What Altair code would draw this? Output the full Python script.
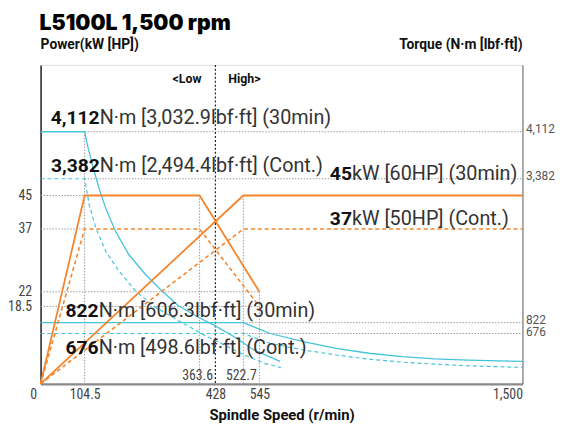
import altair as alt
import pandas as pd

# ---------------- tick values ----------------
speed_ticks = [0, 104.5, 428, 545, 1500]
speed_inner_ticks = [363.6, 522.7]
power_ticks = [18.5, 22, 37, 45]
torque_ticks = [676, 822, 3382, 4112]

# ---------------- power curves (kW) ----------------
p_low30_speed = [0, 104.5, 363.6, 545]
p_low30_kw = [0, 45, 45, 22]
p_lowc_speed = [0, 104.5, 363.6, 545]
p_lowc_kw = [0, 37, 37, 18.5]
p_high30_speed = [0, 522.7, 1500]
p_high30_kw = [0, 45, 45]
p_highc_speed = [0, 522.7, 1500]
p_highc_kw = [0, 37, 37]

# ---------------- torque curves (N·m) ----------------
t_low30_speed = [0, 104.5, 111.2, 122.3, 137.2, 152.1, 174.4, 204.0, 241.2, 278.1,
                 315.3, 359.8, 424, 491.6, 537.3, 620.3]
t_low30_nm = [4112, 4112, 3893, 3586, 3206, 2855, 2444, 2034, 1683, 1390,
              1126, 922, 786, 632, 455, 301]
t_lowc_speed = [0, 104.5, 115, 129.9, 152.1, 181.7, 218.9, 263.4, 315.3, 370,
                435.7, 513.7, 560.8, 622.8]
t_lowc_nm = [3382, 3382, 2913, 2503, 2092, 1741, 1390, 1098, 862, 676,
             566, 411, 278, 219]
t_high_speed = [0, 522.7, 584.4, 704.2, 823.6, 943, 1062.7, 1182, 1301.4, 1500]
t_high30_nm = [822, 822, 676, 566, 477, 411, 367, 335, 318, 301]
t_highc_nm = [676, 676, 543, 455, 388, 331, 292, 265, 243, 221]

# ---------------- guide lines ----------------
p_grid_val = [45, 37, 22, 18.5]
p_grid_from = [0, 0, 0, 0]
p_grid_to = [104.5, 104.5, 545, 545]
t_grid_val = [4112, 3382, 822, 676]
t_grid_from = [104.5, 104.5, 522.7, 522.7]
t_grid_to = [1500, 1500, 1500, 1500]
p_vline_speed = [363.6, 522.7, 545]
p_vline_top = [45, 45, 22]
t_vline_speed = [104.5]
t_vline_top = [4112]
shift_speed = [428]

W, H = 488, 323
ORANGE = "#F5852C"
CYAN = "#44C4D8"
GRID = "#9a9a9a"
NARROW = "Liberation Sans Narrow, Roboto Condensed, Roboto, sans-serif"
ROBOTO = "Roboto, sans-serif"

xscale = alt.Scale(domain=[0, 104.5, 363.6, 428, 522.7, 545, 1500],
                   range=[0, 44.6, 161, 177, 205.3, 221.6, W], nice=False, zero=False)
pscale = alt.Scale(domain=[0, 76.2], range=[H, 0], nice=False, zero=False)
tscale = alt.Scale(domain=[0, 676, 822, 3382, 4112, 5150],
                   range=[H, 272, 261, 115.3, 67.7, 0], nice=False, zero=False)


def curves(parts):
    frames = [pd.DataFrame({"speed": s, "val": v, "series": n}) for s, v, n in parts]
    return pd.concat(frames, ignore_index=True)


power_solid_df = curves([(p_low30_speed, p_low30_kw, "low30"), (p_high30_speed, p_high30_kw, "high30")])
power_dash_df = curves([(p_lowc_speed, p_lowc_kw, "lowc"), (p_highc_speed, p_highc_kw, "highc")])
torque_solid_df = curves([(t_low30_speed, t_low30_nm, "low30"), (t_high_speed, t_high30_nm, "high30")])
torque_dash_df = curves([(t_lowc_speed, t_lowc_nm, "lowc"), (t_high_speed, t_highc_nm, "highc")])

x_axis = alt.Axis(orient="bottom", values=speed_ticks, format=",.5~g", ticks=False, grid=False,
                  domainColor="#8a8a8a", domainWidth=2.5, labelOverlap=False,
                  labelFont=NARROW, labelFontSize=14, labelColor="#444", labelPadding=4,
                  labelOffset={"condition": {"test": "datum.value == 0", "value": -11}, "value": 0},
                  title="Spindle Speed (r/min)", titleFont=ROBOTO, titleFontSize=15,
                  titleFontWeight="bold", titleColor="#111", titlePadding=6)
left_axis = alt.Axis(orient="left", values=power_ticks, format=".4~g", ticks=False, grid=False,
                     domainColor="#222", domainWidth=1.5, labelFont=NARROW, labelFontSize=14,
                     labelColor="#444", labelPadding=9, labelOverlap=False, title=None)
right_axis = alt.Axis(orient="right", values=torque_ticks, format=",.5~g", ticks=False, grid=False,
                      domainColor="#666", domainWidth=1, labelFont=ROBOTO, labelFontSize=12,
                      labelColor="#555", labelPadding=3, labelOverlap=False,
                      labelOffset={"condition": {"test": "datum.value == 676", "value": -1.5},
                                   "value": -3.5},
                      title=None)


def X(f="speed:Q"):
    return alt.X(f, scale=xscale, axis=x_axis, title="Spindle Speed (r/min)")


layers = []
# ---------- power marks ----------
layers.append(alt.Chart(pd.DataFrame({"val": p_grid_val, "a": p_grid_from, "b": p_grid_to})).mark_rule(
    color=GRID, strokeDash=[1.5, 1.5], strokeWidth=1).encode(
    x=X("a:Q"), x2="b:Q", y=alt.Y("val:Q", scale=pscale, axis=None)))
layers.append(alt.Chart(pd.DataFrame({"speed": p_vline_speed, "top": p_vline_top, "bot": 0})).mark_rule(
    color=GRID, strokeDash=[1.5, 1.5], strokeWidth=1).encode(
    x=X(), y=alt.Y("top:Q", scale=pscale, axis=None), y2="bot:Q"))
layers.append(alt.Chart(pd.DataFrame({"speed": shift_speed})).mark_rule(
    color="#222", strokeDash=[2, 2], strokeWidth=1.2).encode(
    x=X(), y=alt.value(0), y2=alt.value(H)))
# ---------- torque marks ----------
layers.append(alt.Chart(pd.DataFrame({"val": t_grid_val, "a": t_grid_from, "b": t_grid_to})).mark_rule(
    color=GRID, strokeDash=[1.5, 1.5], strokeWidth=1).encode(
    x=X("a:Q"), x2="b:Q", y=alt.Y("val:Q", scale=tscale, axis=None)))
layers.append(alt.Chart(pd.DataFrame({"speed": t_vline_speed, "top": t_vline_top, "bot": 0})).mark_rule(
    color=GRID, strokeDash=[1.5, 1.5], strokeWidth=1).encode(
    x=X(), y=alt.Y("top:Q", scale=tscale, axis=None), y2="bot:Q"))
layers.append(alt.Chart(torque_dash_df).mark_line(color=CYAN, strokeWidth=1.2, strokeDash=[4, 3]).encode(
    x=X(), y=alt.Y("val:Q", scale=tscale, axis=None), detail="series:N"))
layers.append(alt.Chart(torque_solid_df).mark_line(color=CYAN, strokeWidth=1.3).encode(
    x=X(), y=alt.Y("val:Q", scale=tscale, axis=right_axis), detail="series:N"))
layers.append(alt.Chart(power_dash_df).mark_line(color=ORANGE, strokeWidth=1.6, strokeDash=[4, 3]).encode(
    x=X(), y=alt.Y("val:Q", scale=pscale, axis=None), detail="series:N"))
layers.append(alt.Chart(power_solid_df).mark_line(color=ORANGE, strokeWidth=1.8).encode(
    x=X(), y=alt.Y("val:Q", scale=pscale, axis=left_axis), detail="series:N"))

# ---------- texts ----------
one = pd.DataFrame({"k": [0]})


def txt(s, x, y, align="left", font=ROBOTO, size=20, weight="normal", color="#333"):
    return alt.Chart(one).mark_text(align=align, baseline="alphabetic", font=font, fontSize=size,
                                    fontWeight=weight, color=color).encode(
        x=alt.value(x), y=alt.value(y), text=alt.value(s))


layers.append(txt("L5100L 1,500 rpm", -1, -35, font="Inter, DejaVu Sans, sans-serif", size=21.5,
                  weight=900, color="#000"))
layers.append(txt("Power(kW [HP])", 0, -16, size=14, weight="bold", color="#111"))
layers.append(txt("Torque (N·m [lbf·ft])", W, -16, align="right", size=14, weight="bold", color="#111"))
annotations = [
    ("4,112", "N·m [3,032.9lbf·ft] (30min)", 59.8, 60.3),
    ("3,382", "N·m [2,494.4lbf·ft] (Cont.)", 60, 108.7),
    ("45", "kW [60HP] (30min)", 315.3, 117),
    ("37", "kW [50HP] (Cont.)", 315.3, 162),
    ("822", "N·m [606.3lbf·ft] (30min)", 58.8, 255.3),
    ("676", "N·m [498.6lbf·ft] (Cont.)", 58.8, 293),
]
for b, r, x, y in annotations:
    layers.append(txt(b, x, y, align="right", size=19.5, weight="bold", color="#111"))
    layers.append(txt(r, x, y, align="left", weight="normal", color="#333"))

gear = pd.DataFrame({"speed": shift_speed})
layers.append(alt.Chart(gear).mark_text(align="right", baseline="alphabetic", dx=-14, font=ROBOTO,
                                        fontSize=12.5, fontWeight="bold", color="#111").encode(
    x=X(), y=alt.value(18), text=alt.value("<Low")))
layers.append(alt.Chart(gear).mark_text(align="left", baseline="alphabetic", dx=13, font=ROBOTO,
                                        fontSize=12.5, fontWeight="bold", color="#111").encode(
    x=X(), y=alt.value(18), text=alt.value("High>")))
inner = pd.DataFrame({"speed": speed_inner_ticks, "lab": [f"{v:g}" for v in speed_inner_ticks]})
layers.append(alt.Chart(inner).mark_text(align="center", baseline="alphabetic", dx=-2, font=NARROW,
                                         fontSize=14, color="#444").encode(
    x=X(), y=alt.value(H - 3.5), text="lab:N"))

chart = alt.layer(*layers).resolve_scale(y="independent").properties(
    width=W, height=H,
    padding={"left": 33, "top": 55, "right": 39, "bottom": 38},
    autosize=alt.AutoSizeParams(type="none"),
).configure_view(stroke="#555", strokeWidth=1.2).configure(background="white")

chart.save("out.html", embed_options={"renderer": "svg", "actions": False})
